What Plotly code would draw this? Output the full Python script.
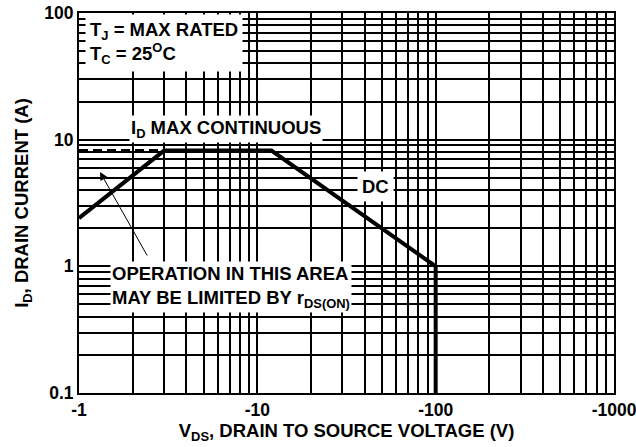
import plotly.graph_objects as go

# Data (magnitudes of V_DS; tick labels shown as negative)
vds_boundary = [1, 3, 12, 100, 100]
id_boundary = [2.4, 8.2, 8.2, 1.0, 0.1]
vds_dashed = [1, 3]
id_dashed = [8.2, 8.2]
x_tickvals = [1, 10, 100, 1000]
x_ticktext = ["-1", "-10", "-100", "-1000"]
y_tickvals = [0.1, 1, 10, 100]
y_ticktext = ["0.1", "1", "10", "100"]

def log_grid(lo_exp, hi_exp):
    vals = []
    for e in range(lo_exp, hi_exp):
        for m in range(1, 10):
            vals.append(m * 10 ** e)
    vals.append(10 ** hi_exp)
    return vals

xg = log_grid(0, 3)
yg = log_grid(-1, 2)

def labels(vals, tv, tt):
    out = []
    for v in vals:
        lab = ""
        for a, b in zip(tv, tt):
            if abs(v - a) / a < 1e-9:
                lab = b
        out.append(lab)
    return out

FONT = "Liberation Sans, Arial, sans-serif"
FS = 18.5

fig = go.Figure()
fig.add_trace(go.Scatter(x=vds_dashed, y=id_dashed, mode="lines",
                         line=dict(color="black", width=3, dash="9px,5px"),
                         hoverinfo="skip", showlegend=False))
fig.add_trace(go.Scatter(x=vds_boundary, y=id_boundary, mode="lines",
                         line=dict(color="black", width=4),
                         hoverinfo="skip", showlegend=False))

W, H = 636, 447
L, R, T, B = 79, 22, 13, 54
X0, X1, Y0, Y1 = L, W - R, T, H - B

def px(xpix):
    return (xpix - X0) / (X1 - X0)

def py(ypix):
    return (Y1 - ypix) / (Y1 - Y0)

box = dict(bgcolor="white", showarrow=False, xref="paper", yref="paper",
           font=dict(family=FONT, size=FS, color="black"))

fig.add_annotation(x=px(85), y=py(14), xanchor="left", yanchor="top", align="left",
                   text="<b>T<sub>J</sub> = MAX RATED<br>T<sub>C</sub> = 25<sup>O</sup>C</b>",
                   borderpad=4, **box)
fig.add_annotation(x=px(226), y=py(129), xanchor="center", yanchor="middle",
                   text="<b>I<sub>D</sub> MAX CONTINUOUS</b>", borderpad=1, **box)
fig.add_annotation(x=px(375), y=py(186), xanchor="center", yanchor="middle",
                   text="<b>DC</b>", borderpad=4, **box)
fig.add_annotation(x=px(110), y=py(261), xanchor="left", yanchor="top", align="left",
                   text="<b>OPERATION IN THIS AREA<br>MAY BE LIMITED BY r<sub>DS(ON)</sub></b>",
                   borderpad=1, **box)
fig.add_annotation(x=px(100), y=py(172), xref="paper", yref="paper",
                   ax=48, ay=85, showarrow=True, arrowhead=2, arrowsize=1.6,
                   arrowwidth=1, arrowcolor="black", text="")

axis_common = dict(showline=True, linecolor="black", linewidth=2, mirror=True,
                   showgrid=True, gridcolor="black", gridwidth=1.5, ticks="",
                   zeroline=False, automargin=False, ticklabeloverflow="allow",
                   tickfont=dict(family=FONT, size=FS - 1, color="black"),
                   title_font=dict(family=FONT, size=FS, color="black"))

fig.update_xaxes(type="log", range=[0, 3], tickmode="array", tickvals=xg,
                 ticktext=[("<b>%s</b>" % t) if t else "" for t in labels(xg, x_tickvals, x_ticktext)],
                 title_text="<b>V<sub>DS</sub>, DRAIN TO SOURCE VOLTAGE (V)</b>",
                 title_standoff=5, **axis_common)
fig.update_yaxes(type="log", range=[-1, 2], tickmode="array", tickvals=yg,
                 ticktext=[("<b>%s</b>" % t) if t else "" for t in labels(yg, y_tickvals, y_ticktext)],
                 title_text="<b>I<sub>D</sub>, DRAIN CURRENT (A)</b>",
                 title_standoff=11, **axis_common)

fig.update_layout(width=W, height=H, margin=dict(l=L, r=R, t=T, b=B),
                  paper_bgcolor="white", plot_bgcolor="white", showlegend=False)

fig.write_html("out.html", config={"displayModeBar": False},
               post_script="document.body.style.margin='0';document.body.style.padding='0';")
